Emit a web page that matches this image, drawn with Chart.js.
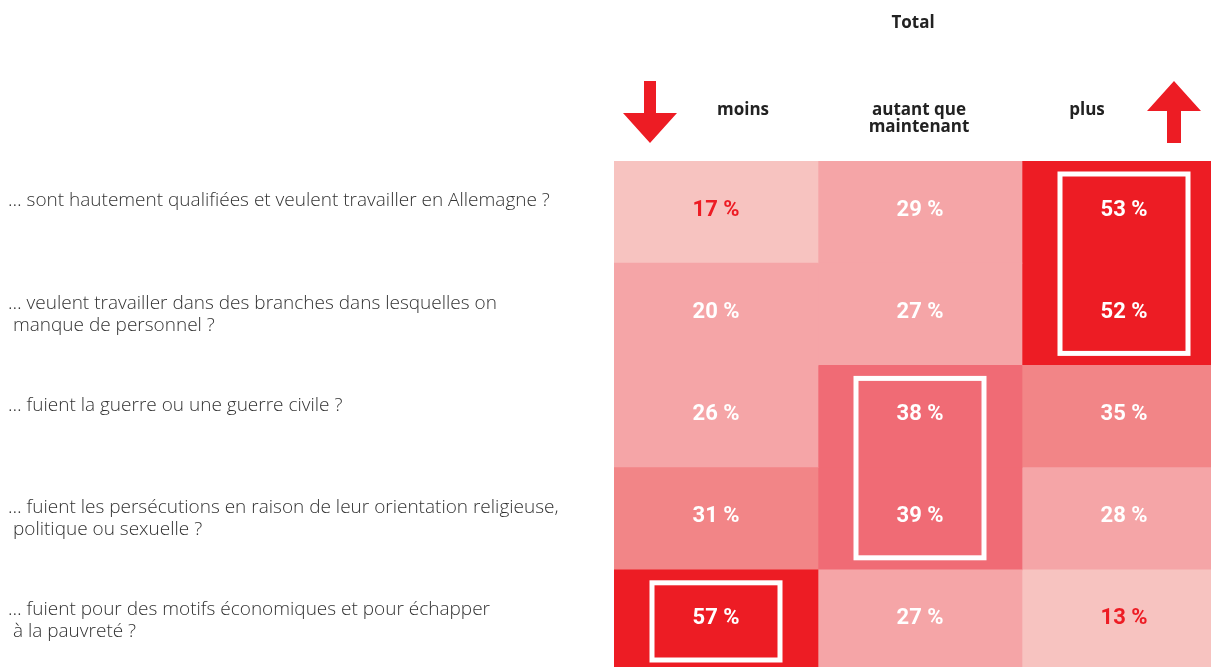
<!DOCTYPE html>
<html>
<head>
<meta charset="utf-8">
<script src="https://cdn.jsdelivr.net/npm/chart.js@4"></script>
<style>
  html, body { margin: 0; padding: 0; overflow: hidden; background: #fff; }
  #wrap { position: absolute; left: 0; top: 0; width: 1226px; height: 672px; }
</style>
</head>
<body>
<div id="wrap"><canvas id="myChart"></canvas></div>
<script>
const questions = [
    ['… sont hautement qualifiées et veulent travailler en Allemagne ?', ''],
    ['… veulent travailler dans des branches dans lesquelles on', ' manque de personnel ?'],
    ['… fuient la guerre ou une guerre civile ?', ''],
    ['… fuient les persécutions en raison de leur orientation religieuse,', ' politique ou sexuelle ?'],
    ['… fuient pour des motifs économiques et pour échapper', ' à la pauvreté ?']
];
const columns = [['moins'], ['autant que', 'maintenant'], ['plus']];
const moins = [17, 20, 26, 31, 57];
const autant = [29, 27, 38, 39, 27];
const plus = [53, 52, 35, 28, 13];
// highlighted blocks: column index, first row, last row
const highlights = [
    { col: 2, from: 0, to: 1 },
    { col: 1, from: 2, to: 3 },
    { col: 0, from: 4, to: 4 }
];

const RED = '#ed1c24';
function cellColor(v) {
    if (v >= 50) return RED;
    if (v >= 37) return '#f06b75';
    if (v >= 30) return '#f28587';
    if (v >= 20) return '#f5a5a7';
    return '#f7c3c0';
}

const series = [moins, autant, plus];

const cellText = {
    id: 'cellText',
    afterDatasetsDraw(chart) {
        const ctx = chart.ctx;
        ctx.save();
        ctx.font = 'bold 22px Roboto';
        ctx.textAlign = 'center';
        ctx.textBaseline = 'middle';
        series.forEach((vals, i) => {
            chart.getDatasetMeta(i).data.forEach((bar, j) => {
                const v = vals[j];
                ctx.fillStyle = v < 20 ? RED : '#fff';
                ctx.fillText(v + ' %', (bar.x + bar.base) / 2, bar.y - 2);
            });
        });
        // white frames
        ctx.strokeStyle = '#fff';
        ctx.lineWidth = 5;
        highlights.forEach(h => {
            const bars = chart.getDatasetMeta(h.col).data;
            const a = bars[h.from], b = bars[h.to];
            const left = a.base + 38, right = a.x - 38;
            const top = a.y - a.height / 2 + 13, bottom = b.y + b.height / 2 - 12;
            ctx.strokeRect(left, top, right - left, bottom - top);
        });
        ctx.restore();
    }
};

const header = {
    id: 'header',
    afterDraw(chart) {
        const ctx = chart.ctx;
        const xs = chart.scales.x;
        const area = chart.chartArea;
        ctx.save();
        ctx.fillStyle = '#222';
        ctx.textAlign = 'center';
        ctx.textBaseline = 'middle';
        ctx.font = 'bold 17px "Open Sans"';
        ctx.fillText('Total', 913, 23);
        const shift = [27, -1, -37];
        columns.forEach((lines, i) => {
            const cx = xs.getPixelForValue(i + 0.5) + shift[i];
            lines.forEach((t, k) => ctx.fillText(t, cx, 110 + k * 17));
        });
        // arrows
        ctx.fillStyle = RED;
        const dx = area.left + 36;
        ctx.beginPath();
        ctx.moveTo(dx - 6, 81); ctx.lineTo(dx + 6, 81); ctx.lineTo(dx + 6, 113);
        ctx.lineTo(dx + 27, 113); ctx.lineTo(dx, 143); ctx.lineTo(dx - 27, 113);
        ctx.lineTo(dx - 6, 113); ctx.closePath(); ctx.fill();
        const ux = area.right - 52;
        ctx.beginPath();
        ctx.moveTo(ux, 81); ctx.lineTo(ux + 27, 111); ctx.lineTo(ux + 7, 111);
        ctx.lineTo(ux + 7, 143); ctx.lineTo(ux - 7, 143); ctx.lineTo(ux - 7, 111);
        ctx.lineTo(ux - 27, 111); ctx.closePath(); ctx.fill();
        ctx.restore();
    }
};

const ctx = document.getElementById('myChart').getContext('2d');
const myChart = new Chart(ctx, {
    type: 'bar',
    data: {
        labels: questions,
        datasets: series.map((vals, i) => ({
            label: columns[i].join(' '),
            data: vals.map(() => 1),
            backgroundColor: vals.map(cellColor),
            borderWidth: 0,
            barPercentage: 1,
            categoryPercentage: 1
        }))
    },
    options: {
        indexAxis: 'y',
        responsive: true,
        maintainAspectRatio: false,
        animation: false,
        layout: { padding: { top: 161, left: 8, right: 0, bottom: 0 } },
        plugins: { legend: { display: false }, tooltip: { enabled: false } },
        scales: {
            x: { stacked: true, display: false, min: 0, max: 3 },
            y: {
                stacked: true,
                grid: { display: false },
                border: { display: false },
                afterFit: s => { s.width = 606; s.paddingTop = 0; s.paddingBottom = 0; },
                ticks: {
                    crossAlign: 'far',
                    color: '#333',
                    font: { family: '"Open Sans"', size: 19, weight: 300, lineHeight: 1.16 }
                }
            }
        }
    },
    plugins: [cellText, header]
});
</script>
</body>
</html>
